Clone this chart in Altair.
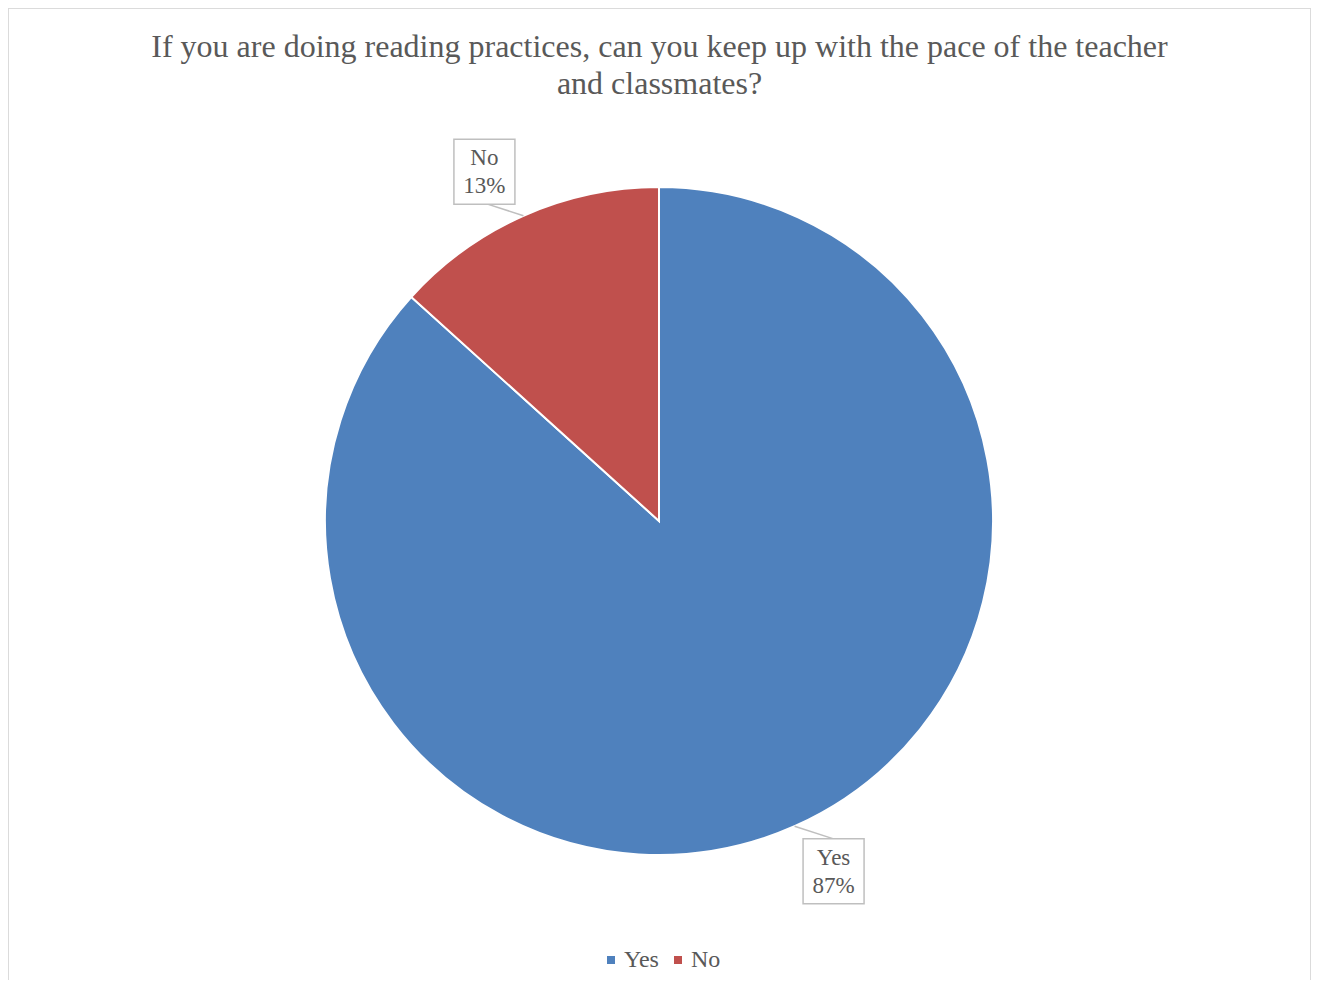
import altair as alt
import pandas as pd

categories = ["Yes", "No"]
values = [86.7, 13.3]
colors = ["#4F81BD", "#C0504D"]
title_lines = [
    "If you are doing reading practices, can you keep up with the pace of the teacher",
    "and classmates?",
]

W, H = 1303, 972
CX, CY, R = 651, 513, 334
LR = 391
FONT = "Liberation Serif"
GRAY = "#595959"
EDGE = "#d9d9d9"

df = pd.DataFrame({"cat": categories, "val": values, "idx": list(range(len(categories)))})
tdf = pd.DataFrame({"line": title_lines, "i": list(range(len(title_lines)))})

base = (
    alt.Chart(df)
    .transform_joinaggregate(total="sum(val)")
    .transform_window(cum="sum(val)", sort=[alt.SortField("idx")], frame=[None, 0])
    .transform_calculate(
        mid="2*PI*(datum.cum - datum.val/2)/datum.total",
        pct="format(datum.val/datum.total, '.0%')",
    )
    .transform_calculate(
        la="datum.mid - 0.045",
        label="datum.cat + '\\n' + datum.pct",
    )
    .transform_calculate(
        lx=f"{CX} + {LR}*sin(datum.la)",
        ly=f"{CY} - {LR}*cos(datum.la)",
        ax=f"{CX} + {R}*sin(datum.mid)",
        ay=f"{CY} - {R}*cos(datum.mid)",
    )
    .transform_calculate(
        bx1="datum.lx - 30.5",
        bx2="datum.lx + 30.5",
        by1="datum.ly - 32",
        by2="datum.ly + 33",
        ey="datum.ly + (cos(datum.la) > 0 ? 32 : -32)",
    )
)

arcs = base.mark_arc(radius=R, stroke="white", strokeWidth=2).encode(
    x=alt.value(CX),
    y=alt.value(CY),
    theta=alt.Theta("val:Q", stack=True),
    order=alt.Order("idx:Q"),
    color=alt.Color(
        "cat:N",
        scale=alt.Scale(domain=categories, range=colors),
        sort=categories,
        legend=alt.Legend(
            title=None,
            orient="none",
            legendX=591,
            legendY=940,
            direction="horizontal",
            symbolType="square",
            symbolSize=64,
            symbolStrokeWidth=0,
            labelFont=FONT,
            labelFontSize=24,
            labelColor=GRAY,
            labelOffset=1,
            columnPadding=7,
            padding=0,
        ),
    ),
)

leaders = base.mark_rule(color="#bfbfbf", strokeWidth=1.5).encode(
    x=alt.X("ax:Q", scale=None),
    y=alt.Y("ay:Q", scale=None),
    x2="lx:Q",
    y2="ey:Q",
)

boxes = base.mark_rect(fill="white", stroke="#bfbfbf", strokeWidth=1.5).encode(
    x=alt.X("bx1:Q", scale=None),
    x2="bx2:Q",
    y=alt.Y("by1:Q", scale=None),
    y2="by2:Q",
)

labels = base.mark_text(
    font=FONT, fontSize=23, color=GRAY, align="center", baseline="middle",
    lineBreak="\n", lineHeight=28, dy=-13,
).encode(
    x=alt.X("lx:Q", scale=None),
    y=alt.Y("ly:Q", scale=None),
    text="label:N",
)

title = (
    alt.Chart(tdf)
    .transform_calculate(ty="49 + 37*datum.i")
    .mark_text(font=FONT, fontSize=32, color=GRAY, align="center", baseline="alphabetic")
    .encode(x=alt.value(W / 2), y=alt.Y("ty:Q", scale=None), text="line:N")
)

frame_top = alt.Chart(df).mark_rule(color=EDGE, strokeWidth=1.5).encode(
    x=alt.value(0), x2=alt.value(W), y=alt.value(0)
)
frame_left = alt.Chart(df).mark_rule(color=EDGE, strokeWidth=1.5).encode(
    x=alt.value(0), y=alt.value(0), y2=alt.value(H)
)
frame_right = alt.Chart(df).mark_rule(color=EDGE, strokeWidth=1.5).encode(
    x=alt.value(W), y=alt.value(0), y2=alt.value(H)
)

chart = (
    alt.layer(frame_top, frame_left, frame_right, arcs, leaders, boxes, labels, title)
    .properties(width=W, height=H, autosize=alt.AutoSizeParams(type="none"), padding=0)
    .configure_view(stroke=None)
)

chart.save("out.html", embed_options={"renderer": "svg", "actions": False})
